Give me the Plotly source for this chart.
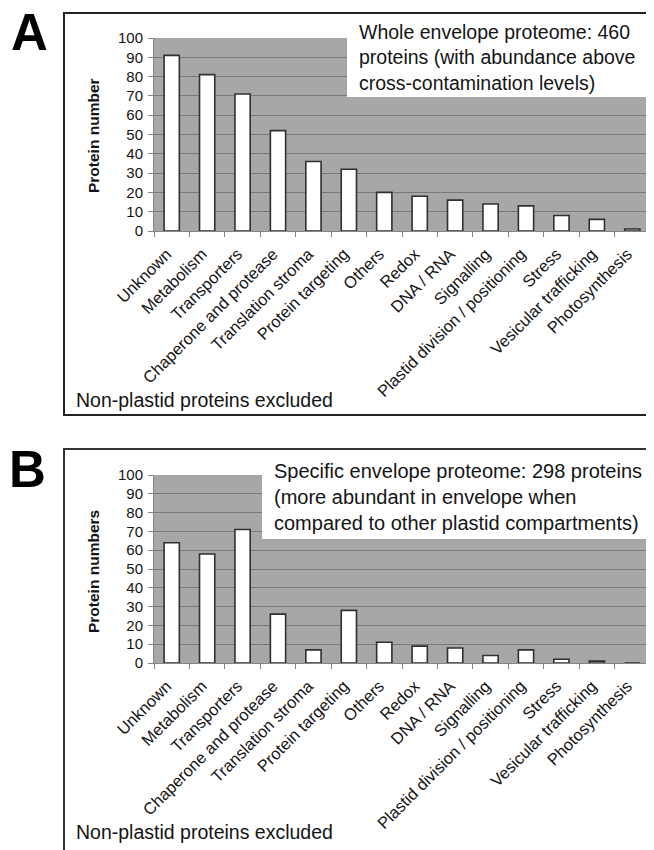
import plotly.graph_objects as go

# ---------------- data ----------------
categories = ["Unknown", "Metabolism", "Transporters", "Chaperone and protease",
              "Translation stroma", "Protein targeting", "Others", "Redox",
              "DNA / RNA", "Signalling", "Plastid division / positioning",
              "Stress", "Vesicular trafficking", "Photosynthesis"]
values_a = [91, 81, 71, 52, 36, 32, 20, 18, 16, 14, 13, 8, 6, 1]
values_b = [64, 58, 71, 26, 7, 28, 11, 9, 8, 4, 7, 2, 1, 0]
y_ticks = [0, 10, 20, 30, 40, 50, 60, 70, 80, 90, 100]

title_a = "Whole envelope proteome: 460<br>proteins (with abundance above<br>cross-contamination levels)"
title_b = "Specific envelope proteome: 298 proteins<br>(more abundant in envelope when<br>compared to other plastid compartments)"
ylabel_a = "Protein number"
ylabel_b = "Protein numbers"
footnote = "Non-plastid proteins excluded"

# ---------------- layout helpers ----------------
# the page body has an 8px margin, so the figure is drawn 8px in from the corner
OFF = 8
W, H = 654 - OFF, 850 - OFF
def px(x):
    return (x - OFF) / W
def py(y):
    return 1 - (y - OFF) / H

FONT = "Liberation Sans, Arial, sans-serif"
TXT = "#141414"
BAR_LINE = "#303030"
GRID = "#787878"
AXIS = "#858585"

fig = go.Figure()
fig.add_trace(go.Bar(x=categories, y=values_a, xaxis="x", yaxis="y",
                     marker=dict(color="white", line=dict(color=BAR_LINE, width=1.6)),
                     showlegend=False))
fig.add_trace(go.Bar(x=categories, y=values_b, xaxis="x2", yaxis="y2",
                     marker=dict(color="white", line=dict(color=BAR_LINE, width=1.6)),
                     showlegend=False))

xdom = [px(154), px(650)]
xcommon = dict(type="category", showline=True, linecolor=AXIS, linewidth=1,
               ticks="outside", tickson="boundaries", ticklen=5, tickcolor=AXIS,
               tickangle=-45, tickfont=dict(family=FONT, size=16.5, color=TXT),
               ticklabelstandoff=6, ticklabelshift=-5,
               showgrid=False, automargin=False, fixedrange=True)
ycommon = dict(range=[0, 100], tickvals=y_ticks, showgrid=True, gridcolor=GRID,
               gridwidth=1, zeroline=False, showline=True, linecolor=AXIS,
               ticks="outside", ticklen=5, tickcolor=AXIS,
               tickfont=dict(family=FONT, size=15, color=TXT),
               ticklabelstandoff=2,
               automargin=False, fixedrange=True)

fig.update_layout(
    width=W, height=H, autosize=False,
    margin=dict(l=0, r=0, t=0, b=0),
    paper_bgcolor="white", plot_bgcolor="#a7a7a7",
    bargap=0.57,
    xaxis=dict(domain=xdom, anchor="y", **xcommon),
    yaxis=dict(domain=[py(231), py(38)], anchor="x", **ycommon),
    xaxis2=dict(domain=xdom, anchor="y2", **xcommon),
    yaxis2=dict(domain=[py(663), py(475)], anchor="x2", **ycommon),
    font=dict(family=FONT, color=TXT),
)

shapes = []
# panel frames
shapes.append(dict(type="rect", xref="paper", yref="paper",
                   x0=px(64), x1=px(664), y0=py(415), y1=py(13),
                   line=dict(color="#222", width=2), fillcolor="rgba(0,0,0,0)", layer="below"))
shapes.append(dict(type="rect", xref="paper", yref="paper",
                   x0=px(64), x1=px(664), y0=py(870), y1=py(449),
                   line=dict(color="#333", width=2), fillcolor="rgba(0,0,0,0)", layer="below"))
# white text boxes covering the plot area
shapes.append(dict(type="rect", xref="paper", yref="paper",
                   x0=px(347), x1=px(652), y0=py(97), y1=py(20),
                   line=dict(width=0), fillcolor="white", layer="above"))
shapes.append(dict(type="rect", xref="paper", yref="paper",
                   x0=px(262), x1=px(652), y0=py(539), y1=py(456),
                   line=dict(width=0), fillcolor="white", layer="above"))
fig.update_layout(shapes=shapes)

ann = []
ann.append(dict(text="<b>A</b>", x=px(29), y=py(33), xref="paper", yref="paper",
                showarrow=False, font=dict(family=FONT, size=51, color="black"),
                xanchor="center", yanchor="middle", borderpad=0))
ann.append(dict(text="<b>B</b>", x=px(27), y=py(469), xref="paper", yref="paper",
                showarrow=False, font=dict(family=FONT, size=51, color="black"),
                xanchor="center", yanchor="middle", borderpad=0))
ann.append(dict(text=title_a, x=px(357), y=py(58), xref="paper", yref="paper",
                showarrow=False, align="left", xanchor="left", yanchor="middle",
                font=dict(family=FONT, size=19.5, color=TXT)))
ann.append(dict(text=title_b, x=px(272), y=py(497), xref="paper", yref="paper",
                showarrow=False, align="left", xanchor="left", yanchor="middle",
                font=dict(family=FONT, size=20, color=TXT)))
ann.append(dict(text="<b>" + ylabel_a + "</b>", x=px(93), y=py(136), xref="paper", yref="paper",
                showarrow=False, textangle=-90, xanchor="center", yanchor="middle",
                font=dict(family=FONT, size=15.5, color=TXT)))
ann.append(dict(text="<b>" + ylabel_b + "</b>", x=px(93), y=py(572), xref="paper", yref="paper",
                showarrow=False, textangle=-90, xanchor="center", yanchor="middle",
                font=dict(family=FONT, size=15.5, color=TXT)))
ann.append(dict(text=footnote, x=px(74), y=py(400), xref="paper", yref="paper",
                showarrow=False, xanchor="left", yanchor="middle",
                font=dict(family=FONT, size=19.5, color=TXT)))
ann.append(dict(text=footnote, x=px(74), y=py(832), xref="paper", yref="paper",
                showarrow=False, xanchor="left", yanchor="middle",
                font=dict(family=FONT, size=19.5, color=TXT)))
fig.update_layout(annotations=ann)

fig.write_html("out.html")
